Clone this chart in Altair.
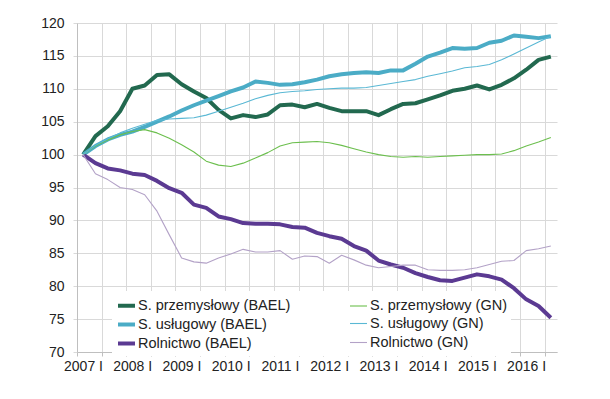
import altair as alt
import pandas as pd

# quarterly index 2007 I .. 2016 III
year_labels = ["2007 I", "2008 I", "2009 I", "2010 I", "2011 I",
               "2012 I", "2013 I", "2014 I", "2015 I", "2016 I"]

# order chosen so the 2-column legend reads BAEL | GN per row
series_names = ["S. przemysłowy (BAEL)", "S. usługowy (BAEL)", "Rolnictwo (BAEL)",
                "S. przemysłowy (GN)", "S. usługowy (GN)", "Rolnictwo (GN)"]

przem_bael = [100, 102.8, 104.3, 106.6, 110.0, 110.5, 112.1, 112.2, 110.7, 109.6,
              108.6, 106.8, 105.5, 106.0, 105.7, 106.1, 107.5, 107.6, 107.2, 107.7,
              107.1, 106.6, 106.6, 106.6, 106.0, 106.9, 107.7, 107.8, 108.4, 109.0,
              109.7, 110.0, 110.5, 109.9, 110.6, 111.6, 112.9, 114.4, 114.9]
przem_gn = [100, 101.3, 102.2, 103.0, 103.5, 103.8, 103.3, 102.5, 101.5, 100.4,
            99.0, 98.4, 98.2, 98.7, 99.5, 100.3, 101.3, 101.8, 101.9, 102.0,
            101.8, 101.4, 100.9, 100.4, 100.0, 99.7, 99.6, 99.7, 99.6, 99.7,
            99.8, 99.9, 100.0, 100.0, 100.1, 100.6, 101.3, 101.9, 102.6]
usl_bael = [100, 101.3, 102.3, 103.0, 103.5, 104.2, 105.0, 105.8, 106.7, 107.5,
            108.2, 108.9, 109.6, 110.2, 111.1, 110.9, 110.6, 110.7, 111.0, 111.4,
            111.9, 112.2, 112.4, 112.5, 112.4, 112.8, 112.8, 113.8, 114.9, 115.5,
            116.2, 116.1, 116.2, 117.0, 117.3, 118.1, 117.9, 117.7, 118.0]
usl_gn = [100, 101.4, 102.4, 103.3, 104.0, 104.6, 105.2, 105.4, 105.5, 105.6,
          106.0, 106.6, 107.2, 107.8, 108.5, 109.0, 109.4, 109.6, 109.7, 109.9,
          110.0, 110.1, 110.1, 110.2, 110.5, 110.8, 111.1, 111.4, 111.9, 112.3,
          112.7, 113.2, 113.4, 113.7, 114.4, 115.3, 116.2, 117.1, 118.0]
rol_bael = [100, 98.7, 97.9, 97.6, 97.1, 96.9, 96.0, 94.9, 94.2, 92.4,
            91.9, 90.6, 90.2, 89.6, 89.5, 89.5, 89.4, 89.0, 88.9, 88.1,
            87.6, 87.2, 86.1, 85.4, 83.9, 83.3, 82.8, 82.0, 81.4, 80.9,
            80.8, 81.3, 81.8, 81.5, 81.0, 79.7, 78.0, 77.0, 75.2]
rol_gn = [100, 97.1, 96.2, 95.0, 94.7, 93.9, 91.4, 87.8, 84.3, 83.7,
          83.5, 84.3, 84.9, 85.6, 85.2, 85.2, 85.4, 84.1, 84.6, 84.5,
          83.5, 84.7, 84.0, 83.2, 82.8, 83.0, 83.2, 83.2, 82.5, 82.4,
          82.4, 82.5, 82.8, 83.3, 83.8, 83.9, 85.4, 85.7, 86.1]

series_values = [przem_bael, usl_bael, rol_bael, przem_gn, usl_gn, rol_gn]
colors = ["#22694f", "#4bacc6", "#5b3a92", "#6cbf4e", "#5ab8d4", "#b3a2c7"]
widths = [4, 4, 4, 1.1, 1.1, 1.1]

rows = []
for k, (name, vals) in enumerate(zip(series_names, series_values)):
    for i, v in enumerate(vals):
        rows.append({"t": i + 0.5, "value": v, "series": name, "ord": k})
df = pd.DataFrame(rows)

n_q = len(przem_bael)
arr = "[" + ",".join("'" + l + "'" for l in year_labels) + "]"
label_expr = f"datum.value % 4 == 0 ? {arr}[datum.value / 4] : ''"

legend = alt.Legend(
    title=None, orient="none", legendX=35, legendY=268, columns=2,
    columnPadding=56, rowPadding=0, symbolType="stroke", symbolSize=289,
    labelFontSize=14.5, labelFont="Liberation Sans", labelColor="#222",
    labelOffset=1, fillColor="white", padding=4, labelLimit=300,
)

chart = alt.Chart(df).mark_line(strokeJoin="round").encode(
    x=alt.X("t:Q", scale=alt.Scale(domain=[0, n_q], nice=False, zero=False),
            axis=alt.Axis(values=list(range(0, n_q, 2)), labelExpr=label_expr,
                          title=None, grid=True, gridColor="#d9d9d9",
                          tickColor="#bfbfbf", tickSize=4, domainColor="#bfbfbf",
                          labelOffset=6, labelFlush=False, labelOverlap=False,
                          labelFontSize=14, labelFont="Liberation Sans",
                          labelColor="#222", labelPadding=3)),
    y=alt.Y("value:Q", scale=alt.Scale(domain=[70, 120], nice=False, zero=False),
            axis=alt.Axis(values=list(range(70, 121, 5)), title=None, grid=True,
                          gridColor="#d9d9d9", tickColor="#d9d9d9", tickSize=4,
                          domainColor="#bfbfbf", labelFontSize=14,
                          labelFont="Liberation Sans", labelColor="#222",
                          labelPadding=9)),
    color=alt.Color("series:N", scale=alt.Scale(domain=series_names, range=colors),
                    legend=legend),
    strokeWidth=alt.StrokeWidth("series:N",
                                scale=alt.Scale(type="ordinal", domain=series_names,
                                                range=widths),
                                legend=legend),
    order="ord:Q",
).properties(
    width=480, height=329,
    autosize=alt.AutoSizeParams(type="none"),
    padding={"left": 69, "top": 15, "right": 10, "bottom": 30},
).configure_view(stroke=None)

chart.save("out.html", embed_options={"renderer": "svg", "actions": False})
